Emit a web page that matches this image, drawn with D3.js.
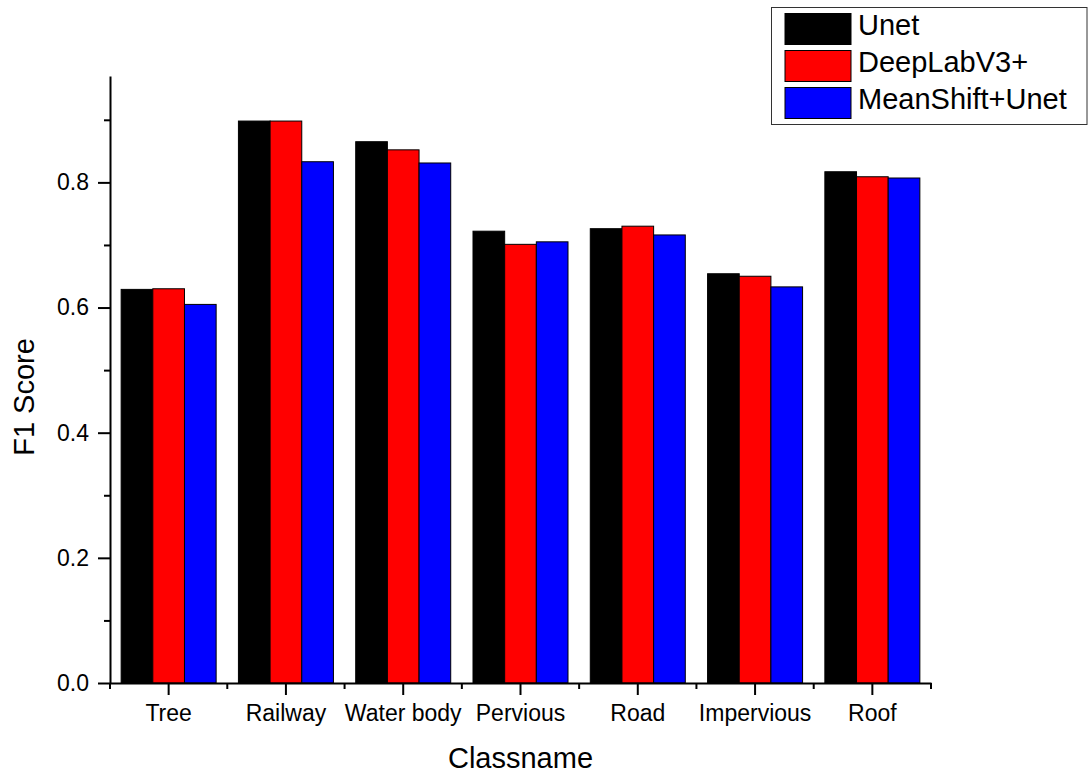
<!DOCTYPE html>
<html>
<head>
<meta charset="utf-8">
<script src="https://cdn.jsdelivr.net/npm/d3@7"></script>
<style>
  html, body { margin: 0; padding: 0; background: #fff; }
  svg { display: block; font-family: "Liberation Sans", Arial, sans-serif; }
</style>
</head>
<body>
<svg id="chart" width="1090" height="774"></svg>
<script>
// F1 score per land-cover class for three segmentation models
const categories = ["Tree", "Railway", "Water body", "Pervious", "Road", "Impervious", "Roof"];
const seriesNames = ["Unet", "DeepLabV3+", "MeanShift+Unet"];
const unet       = [0.629, 0.898, 0.865, 0.722, 0.726, 0.654, 0.817];
const deeplab    = [0.630, 0.898, 0.852, 0.701, 0.730, 0.650, 0.809];
const meanshift  = [0.605, 0.833, 0.831, 0.705, 0.716, 0.633, 0.807];
const seriesColors = ["#000000", "#ff0000", "#0000ff"];
const yMajorTicks = [0.0, 0.2, 0.4, 0.6, 0.8];
const yMinorTicks = [0.1, 0.3, 0.5, 0.7, 0.9];
const yTitle = "F1 Score";
const xTitle = "Classname";

const seriesValues = [unet, deeplab, meanshift];
const rows = categories.map((c, i) => ({
  category: c,
  values: seriesNames.map((s, k) => ({ series: s, k, value: seriesValues[k][i] }))
}));

const svg = d3.select("#chart");
const plot = { left: 110, right: 931, top: 76, bottom: 683 };

const x = d3.scaleBand().domain(categories).range([plot.left, plot.right]).paddingInner(0).paddingOuter(0);
const groupPad = (1 - 0.81) / 2;
const xs = d3.scaleBand().domain(seriesNames)
  .range([x.bandwidth() * groupPad, x.bandwidth() * (1 - groupPad)]).padding(0);
const y = d3.scaleLinear().domain([0, 0.97]).range([plot.bottom, plot.top]);

// bars
const groups = svg.append("g").selectAll("g").data(rows).join("g")
  .attr("transform", d => `translate(${x(d.category)},0)`);
groups.selectAll("rect").data(d => d.values).join("rect")
  .attr("x", d => xs(d.series))
  .attr("y", d => y(d.value))
  .attr("width", xs.bandwidth())
  .attr("height", d => y(0) - y(d.value))
  .attr("fill", d => seriesColors[d.k])
  .attr("stroke", "#000")
  .attr("stroke-width", 1);

// y axis: major labelled ticks and minor unlabelled ticks
svg.append("g").attr("transform", `translate(${plot.left},0)`)
  .call(d3.axisLeft(y).tickValues(yMajorTicks).tickFormat(d3.format(".1f")).tickSize(12).tickPadding(9).tickSizeOuter(0));
svg.append("g").attr("transform", `translate(${plot.left},0)`)
  .call(d3.axisLeft(y).tickValues(yMinorTicks).tickFormat("").tickSize(6).tickSizeOuter(0))
  .select(".domain").remove();

// x axis: category ticks at centers, minor ticks at band edges
svg.append("g").attr("transform", `translate(0,${plot.bottom})`)
  .call(d3.axisBottom(x).tickSize(12).tickPadding(10).tickSizeOuter(0));
const edges = categories.map(c => x(c)).concat([plot.right]);
svg.append("g").attr("transform", `translate(0,${plot.bottom})`)
  .selectAll("line").data(edges).join("line")
  .attr("x1", d => d).attr("x2", d => d).attr("y1", 0).attr("y2", 6)
  .attr("stroke", "#000").attr("stroke-width", 2);

svg.selectAll(".domain").attr("stroke", "#000").attr("stroke-width", 2);
svg.selectAll(".tick line").attr("stroke", "#000").attr("stroke-width", 2);
svg.selectAll(".tick text").attr("fill", "#000").style("font-size", "23px")
  .style("font-family", "'Liberation Sans', Arial, sans-serif");

// axis titles
svg.append("text")
  .attr("x", (plot.left + plot.right) / 2).attr("y", 768)
  .attr("text-anchor", "middle").style("font-size", "29px").attr("fill", "#000")
  .text(xTitle);
svg.append("text")
  .attr("transform", `translate(34,397) rotate(-90)`)
  .attr("text-anchor", "middle").style("font-size", "29px").attr("fill", "#000")
  .text(yTitle);

// legend
const legend = svg.append("g");
legend.append("rect")
  .attr("x", 771.5).attr("y", 7.5).attr("width", 315.5).attr("height", 117)
  .attr("fill", "#fff").attr("stroke", "#333").attr("stroke-width", 1);
const items = legend.selectAll("g.item").data(seriesNames).join("g").attr("class", "item")
  .attr("transform", (d, i) => `translate(0,${i * 37})`);
items.append("rect")
  .attr("x", 785).attr("y", 13.5).attr("width", 66).attr("height", 31)
  .attr("fill", (d, i) => seriesColors[i]).attr("stroke", "#000").attr("stroke-width", 1);
items.append("text")
  .attr("x", 858).attr("y", 35)
  .style("font-size", "29px").attr("fill", "#000")
  .text(d => d);
</script>
</body>
</html>
